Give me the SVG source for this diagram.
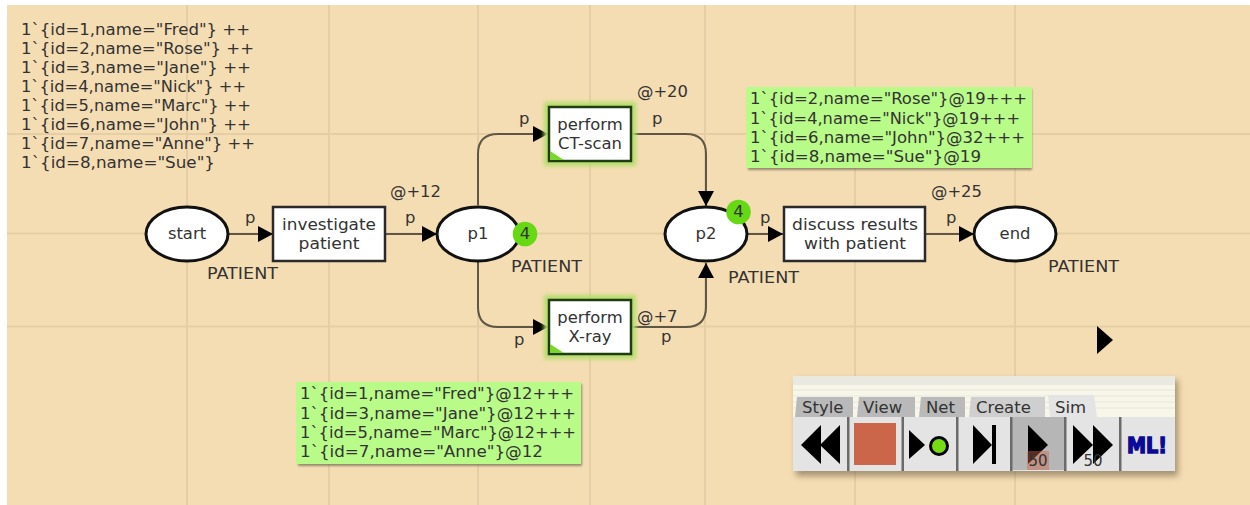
<svg xmlns="http://www.w3.org/2000/svg" width="1250" height="505" viewBox="0 0 1250 505">
<defs>
<filter id="glow" x="-20%" y="-20%" width="140%" height="140%"><feGaussianBlur stdDeviation="2"/></filter>
<filter id="shadow" x="-5%" y="-10%" width="110%" height="125%"><feGaussianBlur stdDeviation="3"/></filter>
<filter id="soft" x="-5%" y="-10%" width="110%" height="125%"><feGaussianBlur stdDeviation="1"/></filter>
<marker id="ah" markerUnits="userSpaceOnUse" markerWidth="16" markerHeight="16" refX="15" refY="8" orient="auto"><path d="M0,0L15,8L0,16Z" fill="#000"/></marker>
</defs>
<style>
text{font-family:"DejaVu Sans",Verdana,sans-serif;font-size:16.4px;fill:#333}
.c{text-anchor:middle}
.grid{stroke:#e5cea6;stroke-width:2;fill:none}
.place{fill:#fff;stroke:#111;stroke-width:3}
.trans{fill:#fff;stroke:#2a2a2a;stroke-width:2.5}
.trans.en{stroke:#1f3d10}
.arc{fill:none;stroke:#5f5645;stroke-width:2;marker-end:url(#ah)}
.tok{fill:#66d814}
.mark{fill:#b9fb88}
.msh{fill:#6e6650;opacity:.7}
.g{fill:#7bd62c}
.halo{fill:#b4dd6a}
.tab{fill:#b9b9b9}
.btn{fill:#e4e4e4}
.sep{fill:#6b6b6b}
.tb{font-size:16.5px;fill:#333}
.n{font-size:15px}
</style>
<rect width="1250" height="505" fill="#fff"/>
<rect x="7" y="5" width="1243" height="500" fill="#f5ddb3"/>
<g id="grid" class="grid">
<path d="M187,5V505M329,5V505M478,5V505M590,5V505M705,5V505M855,5V505M1015,5V505M7,134H1250M7,233.500H1250M7,326.500H1250"/>
</g>
<g id="connectors">
<path class="arc" d="M229,234H273"/>
<path class="arc" d="M385,234H437"/>
<path class="arc" d="M478,205V154Q478,134 498,134H548"/>
<path class="arc" d="M478,262V307Q478,327 498,327H548"/>
<path class="arc" d="M632,134H686Q706,134 706,154V206"/>
<path class="arc" d="M632,327H686Q706,327 706,307V263"/>
<path class="arc" d="M748,234H783"/>
<path class="arc" d="M925,234H974"/>
</g>
<g id="start"><ellipse class="place" cx="187" cy="234" rx="41" ry="27"/><text class="c" x="187" y="239">start</text></g>
<g id="investigate"><rect class="trans" x="273" y="207" width="112" height="54"/><text class="c" x="329" y="230" textLength="94" lengthAdjust="spacingAndGlyphs">investigate</text><text class="c" x="329" y="249" textLength="61" lengthAdjust="spacingAndGlyphs">patient</text></g>
<g id="p1"><ellipse class="place" cx="478" cy="234" rx="41" ry="27"/><text class="c" x="478" y="239">p1</text><circle class="tok" cx="525" cy="234" r="12.300"/><text class="c" x="525" y="239">4</text></g>
<g id="ctscan"><rect x="544" y="102" width="92" height="64" class="halo" filter="url(#glow)"/><rect class="trans en" x="549" y="107" width="82" height="54"/><path class="g" d="M550,160V151L564,160Z"/><text class="c" x="590" y="130">perform</text><text class="c" x="590" y="149">CT-scan</text></g>
<g id="xray"><rect x="544" y="295" width="92" height="64" class="halo" filter="url(#glow)"/><rect class="trans en" x="549" y="300" width="82" height="54"/><path class="g" d="M550,353V344L564,353Z"/><text class="c" x="590" y="323">perform</text><text class="c" x="590" y="342">X-ray</text></g>
<g id="p2"><ellipse class="place" cx="706" cy="234" rx="41" ry="27"/><text class="c" x="706" y="239">p2</text><circle class="tok" cx="738.500" cy="212" r="12.300"/><text class="c" x="738.500" y="217">4</text></g>
<g id="discuss"><rect class="trans" x="784" y="207" width="141" height="54"/><text class="c" x="855" y="230" textLength="126" lengthAdjust="spacingAndGlyphs">discuss results</text><text class="c" x="855" y="249" textLength="102" lengthAdjust="spacingAndGlyphs">with patient</text></g>
<g id="end"><ellipse class="place" cx="1015" cy="234" rx="41" ry="27"/><text class="c" x="1015" y="239">end</text></g>
<g id="labels">
<text x="245" y="223">p</text><text x="405" y="223">p</text><text x="519" y="124">p</text><text x="514" y="345">p</text><text x="652" y="124">p</text><text x="661" y="342">p</text><text x="760" y="223">p</text><text x="946" y="223">p</text>
<text x="390" y="197">@+12</text><text x="637" y="97">@+20</text><text x="637" y="322">@+7</text><text x="931" y="197">@+25</text>
<text x="207" y="279" textLength="71" lengthAdjust="spacingAndGlyphs">PATIENT</text><text x="511" y="272" textLength="71" lengthAdjust="spacingAndGlyphs">PATIENT</text><text x="728" y="283" textLength="71" lengthAdjust="spacingAndGlyphs">PATIENT</text><text x="1048" y="272" textLength="71" lengthAdjust="spacingAndGlyphs">PATIENT</text>
</g>
<g id="initial-marking">
<text x="21" y="35" textLength="229" lengthAdjust="spacingAndGlyphs">1`{id=1,name="Fred"} ++</text>
<text x="21" y="54" textLength="233" lengthAdjust="spacingAndGlyphs">1`{id=2,name="Rose"} ++</text>
<text x="21" y="73" textLength="230" lengthAdjust="spacingAndGlyphs">1`{id=3,name="Jane"} ++</text>
<text x="21" y="92" textLength="225" lengthAdjust="spacingAndGlyphs">1`{id=4,name="Nick"} ++</text>
<text x="21" y="111" textLength="230" lengthAdjust="spacingAndGlyphs">1`{id=5,name="Marc"} ++</text>
<text x="21" y="130" textLength="230" lengthAdjust="spacingAndGlyphs">1`{id=6,name="John"} ++</text>
<text x="21" y="149" textLength="234" lengthAdjust="spacingAndGlyphs">1`{id=7,name="Anne"} ++</text>
<text x="21" y="168" textLength="194" lengthAdjust="spacingAndGlyphs">1`{id=8,name="Sue"}</text>
</g>
<g id="marking-p1">
<rect class="msh" x="298" y="384" width="284" height="82" filter="url(#soft)"/>
<rect class="mark" x="296" y="382" width="285" height="82"/>
<text x="300" y="399" textLength="274" lengthAdjust="spacingAndGlyphs">1`{id=1,name="Fred"}@12+++</text>
<text x="300" y="418.500" textLength="276" lengthAdjust="spacingAndGlyphs">1`{id=3,name="Jane"}@12+++</text>
<text x="300" y="438" textLength="276" lengthAdjust="spacingAndGlyphs">1`{id=5,name="Marc"}@12+++</text>
<text x="300" y="457" textLength="243" lengthAdjust="spacingAndGlyphs">1`{id=7,name="Anne"}@12</text>
</g>
<g id="marking-p2">
<rect class="msh" x="748" y="89" width="284" height="81" filter="url(#soft)"/>
<rect class="mark" x="746" y="87" width="286" height="81"/>
<text x="750" y="104" textLength="277" lengthAdjust="spacingAndGlyphs">1`{id=2,name="Rose"}@19+++</text>
<text x="750" y="123.500" textLength="270" lengthAdjust="spacingAndGlyphs">1`{id=4,name="Nick"}@19+++</text>
<text x="750" y="143" textLength="275" lengthAdjust="spacingAndGlyphs">1`{id=6,name="John"}@32+++</text>
<text x="750" y="162" textLength="231" lengthAdjust="spacingAndGlyphs">1`{id=8,name="Sue"}@19</text>
</g>
<g id="page-arrow"><path d="M1097,326L1113,340L1097,354Z" fill="#000"/></g>
<g id="toolbar">
<rect x="796" y="380" width="382" height="96" fill="#6e5f45" opacity=".6" filter="url(#shadow)"/>
<rect x="793" y="376" width="382" height="95" fill="#f8f6e8"/>
<rect x="793" y="376" width="382" height="9" fill="#e9e9e1"/>
<path d="M793,390H1175M793,396H1175M793,402H1175M793,408H1175" stroke="#eeeee2" stroke-width="2"/>
<path class="tab" d="M795,417L797,397H853V417Z"/><path class="tab" d="M857,417L859,397H915V417Z"/><path class="tab" d="M919,417L921,397H965V417Z"/><path d="M969,417L971,397H1045V417Z" fill="#cfcfcf"/><path class="btn" d="M1050,417L1048,395H1094L1097,417Z"/>
<text class="tb" x="802" y="412.500">Style</text><text class="tb" x="863" y="412.500">View</text><text class="tb" x="926" y="412.500">Net</text><text class="tb" x="976" y="412.500">Create</text><text class="tb" x="1055" y="412.500">Sim</text>
<rect class="btn" x="793" y="417" width="382" height="54"/>
<rect x="1012" y="417" width="52" height="53" fill="#b6b6b6"/>
<path class="sep" d="M847,417h2.500v54h-2.500zM901.500,417h2.500v54h-2.500zM956,417h2.500v54h-2.500zM1010,417h2.500v54h-2.500zM1064,417h2.500v54h-2.500zM1119,417h2.500v54h-2.500z"/>
<path d="M801,445L821,425V464ZM820,445L840,425V464Z" fill="#000"/>
<rect x="854" y="423" width="42" height="42" fill="#cc664b"/>
<path d="M909,430L925,445L909,459Z" fill="#000"/>
<circle cx="939" cy="446" r="8.500" fill="#78dc14" stroke="#000" stroke-width="3"/>
<path d="M973,425L992,445L973,464Z" fill="#000"/><rect x="992" y="425" width="4" height="39" fill="#000"/>
<path d="M1028,425L1048,445L1028,464Z" fill="#000"/>
<rect x="1027" y="451" width="22" height="19" fill="#cc664b" opacity=".45"/>
<text class="c n" x="1038" y="466">50</text>
<path d="M1073,425L1093,445L1073,464ZM1093,425L1113,445L1093,464Z" fill="#000"/>
<text class="c n" x="1093" y="466">50</text>
<text class="c" x="1147" y="453" style="font-family:'DejaVu Sans',sans-serif;font-size:22px;font-weight:bold;fill:#0a0a96;stroke:#0a0a96;stroke-width:1.500" textLength="40" lengthAdjust="spacingAndGlyphs">ML!</text>
</g>
</svg>
